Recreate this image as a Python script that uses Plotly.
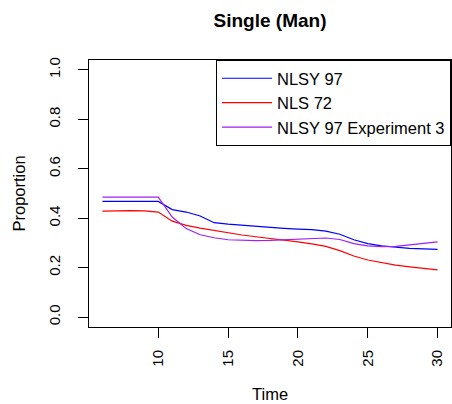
import plotly.graph_objects as go

# ── Data ───────────────────────────────────────────────────────────────────────

time = list(range(6, 31))

nlsy97 = [0.468, 0.468, 0.468, 0.468, 0.468, 0.435, 0.425, 0.409, 0.382, 0.376,
          0.371, 0.366, 0.362, 0.359, 0.356, 0.354, 0.348, 0.335, 0.313, 0.297,
          0.288, 0.282, 0.278, 0.276, 0.274]

nls72 = [0.429, 0.431, 0.431, 0.430, 0.425, 0.388, 0.371, 0.360, 0.351, 0.339,
         0.332, 0.325, 0.319, 0.312, 0.304, 0.296, 0.286, 0.269, 0.247, 0.231,
         0.219, 0.210, 0.203, 0.196, 0.191]

nlsy97_exp3 = [0.485, 0.485, 0.485, 0.485, 0.485, 0.405, 0.358, 0.333, 0.321, 0.313,
               0.310, 0.309, 0.310, 0.313, 0.316, 0.319, 0.320, 0.314, 0.297, 0.288,
               0.285, 0.286, 0.292, 0.301, 0.304]

series = [
    ("NLSY 97", nlsy97, "#0000FF"),
    ("NLS 72", nls72, "#FF0000"),
    ("NLSY 97 Experiment 3", nlsy97_exp3, "#A020F0"),
]

x_ticks = [10, 15, 20, 25, 30]
y_ticks = [0.0, 0.2, 0.4, 0.6, 0.8, 1.0]

FONT = "Liberation Sans, Arial, Helvetica, sans-serif"

# ── Figure ─────────────────────────────────────────────────────────────────────

fig = go.Figure()
for name, values, color in series:
    fig.add_trace(go.Scatter(
        x=time, y=values, name=name, mode="lines",
        line=dict(color=color, width=1.2),
    ))

axis_common = dict(
    showline=True, mirror=True, linecolor="black", linewidth=1,
    showgrid=False, zeroline=False,
    ticks="outside", ticklen=10, tickcolor="black", tickwidth=1,
    tickangle=-90,
    tickfont=dict(family=FONT, size=15, color="black"),
)

fig.update_layout(
    width=452, height=404,
    plot_bgcolor="white", paper_bgcolor="white",
    margin=dict(l=89, r=1, t=60, b=77),
    font=dict(family=FONT, color="black"),
    title=dict(
        text="<b>Single (Man)</b>",
        font=dict(family=FONT, size=19, color="black"),
        x=270 / 452, xanchor="center",
        y=1 - 20 / 404, yanchor="middle",
    ),
    xaxis=dict(range=[5.04, 30.96], tickvals=x_ticks, ticklabelstandoff=6,
               **axis_common),
    yaxis=dict(range=[-0.04, 1.04], tickvals=y_ticks, tickformat=".1f",
               ticklabelstandoff=12, **axis_common),
    legend=dict(
        x=1, y=1, xanchor="right", yanchor="top",
        bordercolor="black", borderwidth=1, bgcolor="white",
        font=dict(family=FONT, size=16.5, color="black"),
        tracegroupgap=0, itemwidth=50,
    ),
    showlegend=True,
    annotations=[
        dict(text="Proportion", xref="paper", yref="paper",
             x=(18 - 89) / 362, y=0.5, xanchor="center", yanchor="middle",
             textangle=-90, showarrow=False,
             font=dict(family=FONT, size=16.5, color="black")),
        dict(text="Time", xref="paper", yref="paper",
             x=0.5, y=(327 - 394) / 267, xanchor="center", yanchor="middle",
             showarrow=False,
             font=dict(family=FONT, size=16.5, color="black")),
    ],
)

fig.write_html("out.html", config={"displayModeBar": False},
               post_script="document.body.style.margin='0';")
